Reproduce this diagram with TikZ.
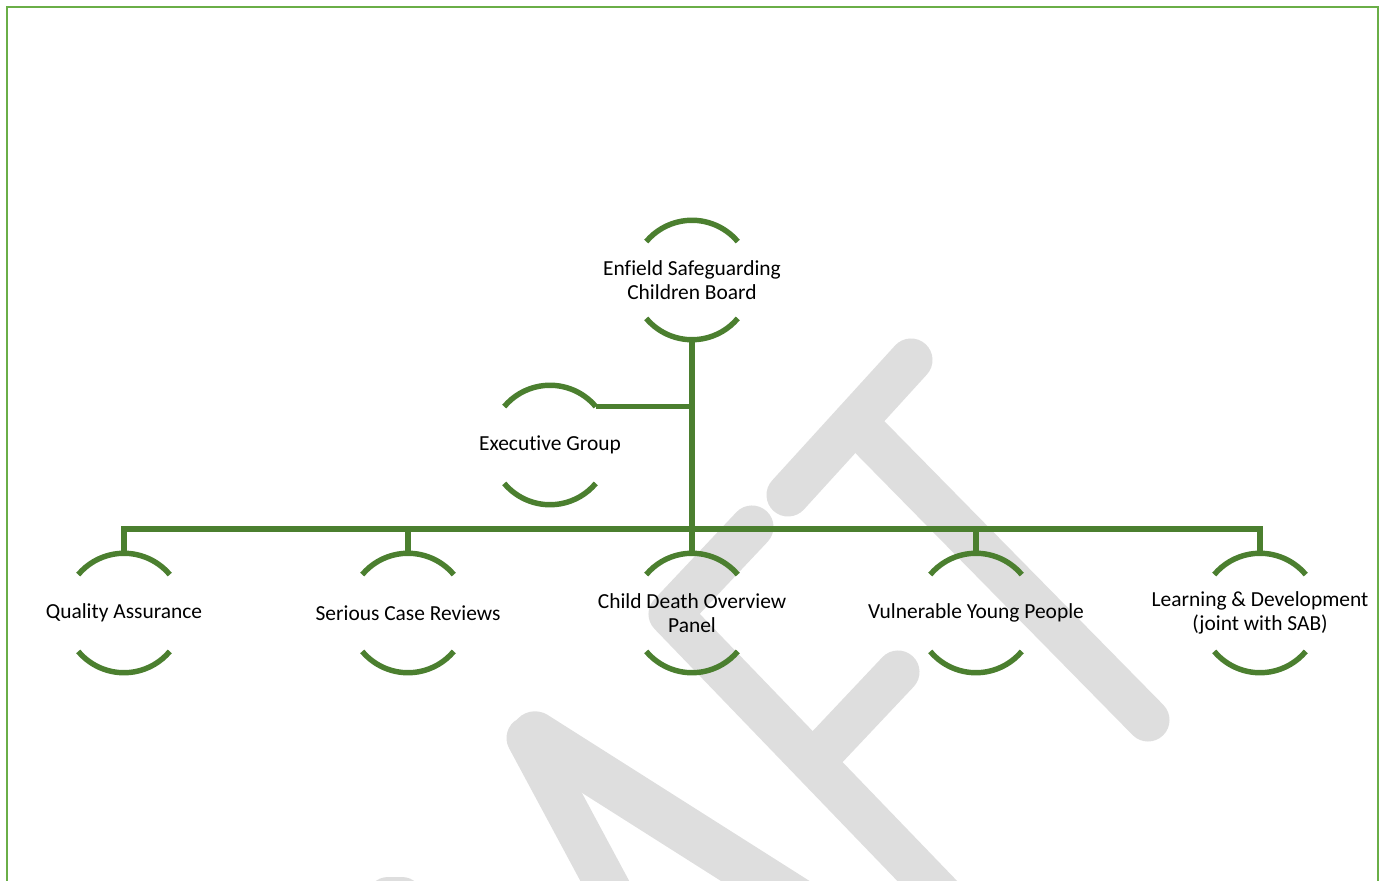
\documentclass[tikz,border=0pt]{standalone}
\usepackage{fontspec}
\setmainfont{Carlito}[Ligatures=NoCommon]
\definecolor{boardgreen}{HTML}{4B7F2F}
\definecolor{framegreen}{HTML}{6AAE47}
\definecolor{draftgrey}{HTML}{DEDEDE}
\tikzset{
  unit/.style={circle, minimum size=68pt, inner sep=0pt, outer sep=0pt},
  unitlabel/.style={font=\fontsize{12.2pt}{13.6pt}\selectfont, align=center, inner sep=0pt},
  ring/.style={boardgreen, line width=3.1pt},
  link/.style={boardgreen, line width=3.1pt},
  wmark/.style={draftgrey, line width=24.5pt, line cap=round, line join=round}
}
\begin{document}
\begin{tikzpicture}[x=0.02cm, y=0.02cm]
      \useasboundingbox (0,0) rectangle (1384,-881);
      \clip (0,0) rectangle (1384,-881);
      % draft watermark
      \draw[wmark] (911,-360) -- (788,-495);
      \draw[wmark] (855,-422) -- (1148,-720);
      \draw[wmark] (752,-527) -- (670,-614) -- (960,-915);
      \draw[wmark] (898,-672) -- (815,-760);
      \draw[wmark] (528,-738) -- (615,-900);
      \draw[wmark, line width=27pt] (535,-735) -- (800,-903);
      \draw[wmark] (388,-899) -- (402,-899);
      \draw[framegreen, line width=0.9pt] (7,-7) rectangle (1378,-900);
      % units
      \node[unit, label={[unitlabel]center:Enfield Safeguarding\\Children Board}] (escb) at (692,-280) {};
      \node[unit, label={[unitlabel]center:Executive Group}] (exec) at (550,-445) {};
      \node[unit, label={[unitlabel]center:Quality Assurance}] (qa) at (124,-613) {};
      \node[unit, label={[unitlabel]center:Serious Case Reviews}] (scr) at (408,-613) {};
      \node[unit, label={[unitlabel]center:Child Death Overview\\Panel}] (cdop) at (692,-613) {};
      \node[unit, label={[unitlabel]center:Vulnerable Young People}] (vyp) at (976,-613) {};
      \node[unit, label={[unitlabel]center:Learning \& Development\\(joint with SAB)}] (ld) at (1260,-613) {};
      \coordinate (bus) at (692,-529);
      \foreach \n in {escb,exec,qa,scr,cdop,vyp,ld} {
        \draw[ring] (\n.40) arc (40:140:34pt);
        \draw[ring] (\n.220) arc (220:320:34pt);
      }
      % links
      \draw[link] (escb.south) -- (cdop.north);
      \draw[link] (exec.40) -- (exec.40 -| escb.south);
      \draw[link] (qa.north) -- (qa.north |- bus) -- (ld.north |- bus) -- (ld.north);
      \foreach \n in {scr,vyp}
        \draw[link] (\n.north) -- (\n.north |- bus);
    \end{tikzpicture}
\end{document}
